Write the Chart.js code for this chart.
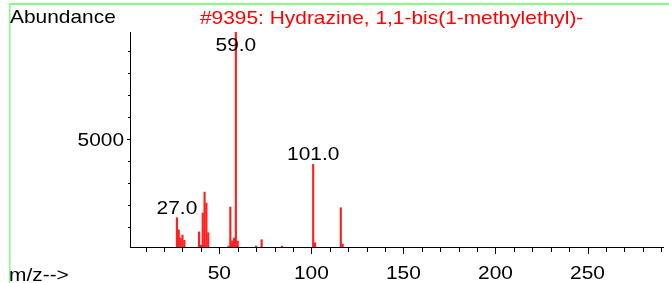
<!DOCTYPE html>
<html>
<head>
<meta charset="utf-8">
<script src="https://cdn.jsdelivr.net/npm/chart.js@4/dist/chart.umd.min.js"></script>
<style>
  html, body { margin: 0; padding: 0; background: #fff; }
  #wrap { width: 669px; height: 283px; position: relative; }
</style>
</head>
<body>
<div id="wrap"><canvas id="spectrum"></canvas></div>
<script>
// Mass spectrum data
const mz = [27, 28, 29, 30, 31, 39, 40, 41, 42, 43, 44, 55, 56, 57, 58, 59, 60, 70, 73, 84, 101, 102, 116, 117];
const abundance = [1440, 880, 515, 650, 410, 790, 195, 1650, 2600, 2100, 755, 150, 1920, 380, 515, 9900, 380, 150, 435, 150, 3860, 300, 1890, 240];
const labeledPeaks = [27, 59, 101];
const xTickLabels = [50, 100, 150, 200, 250];
const yTickLabels = [5000];
const titleText = '#9395: Hydrazine, 1,1-bis(1-methylethyl)-';

const FONT = '"Liberation Sans", Arial, sans-serif';

// text is a bit wide in the original, stretch horizontally
function drawText(ctx, text, x, y, align, size, color) {
  const sx = 1.1;
  ctx.save();
  ctx.font = size + 'px ' + FONT;
  ctx.fillStyle = color;
  ctx.textBaseline = 'alphabetic';
  ctx.textAlign = align;
  ctx.translate(x, y);
  ctx.scale(sx, 1);
  ctx.fillText(text, 0, 0);
  ctx.restore();
}

const decorations = {
  id: 'decorations',
  beforeDraw(chart) {
    const ctx = chart.ctx;
    ctx.save();
    ctx.fillStyle = '#fff';
    ctx.fillRect(0, 0, chart.width, chart.height);
    // green frame
    ctx.fillStyle = '#80ff80';
    ctx.fillRect(9, 3, chart.width - 9, 2);
    ctx.fillRect(9, 3, 1.5, chart.height - 3);
    ctx.restore();
  },
  afterDraw(chart) {
    const ctx = chart.ctx;
    const xs = chart.scales.x;
    const ys = chart.scales.y;
    const area = chart.chartArea;
    const bottom = Math.round(area.bottom);
    const left = Math.round(area.left);

    ctx.save();
    ctx.fillStyle = '#000';
    // x ticks
    for (let v = 10; v <= 290; v += 10) {
      const px = Math.round(xs.getPixelForValue(v));
      const len = v % 50 === 0 ? 7 : 5;
      ctx.fillRect(px, bottom, 1, len);
    }
    // y ticks
    for (let v = 1000; v <= 9000; v += 1000) {
      const py = Math.round(ys.getPixelForValue(v));
      const len = v % 5000 === 0 ? 3 : 2;
      ctx.fillRect(left - len, py, len, 1);
    }
    ctx.restore();

    // tick labels
    xTickLabels.forEach(v => {
      drawText(ctx, String(v), xs.getPixelForValue(v), 278.5, 'center', 19, '#000');
    });
    yTickLabels.forEach(v => {
      drawText(ctx, String(v), area.left - 6, ys.getPixelForValue(v) + 7, 'right', 19, '#000');
    });

    // peak labels
    labeledPeaks.forEach(m => {
      const i = mz.indexOf(m);
      const px = xs.getPixelForValue(m);
      const top = ys.getPixelForValue(abundance[i]);
      const y = Math.max(top - 4, area.top + 19);
      drawText(ctx, m.toFixed(1), px, y, 'center', 19, '#000');
    });

    drawText(ctx, 'Abundance', 10, 23, 'left', 19, '#000');
    drawText(ctx, 'm/z-->', 9, 281, 'left', 19, '#000');
    drawText(ctx, titleText, 200, 24.3, 'left', 19, '#ff0000');
  }
};

const ctx = document.getElementById('spectrum').getContext('2d');
new Chart(ctx, {
  type: 'bar',
  data: {
    datasets: [{
      data: mz.map((m, i) => ({ x: m, y: abundance[i] })),
      backgroundColor: '#ff2020',
      borderWidth: 0,
      barThickness: 1.5
    }]
  },
  options: {
    responsive: true,
    maintainAspectRatio: false,
    animation: false,
    layout: { padding: { top: 32, right: 6, left: 0, bottom: 0 } },
    plugins: {
      legend: { display: false },
      tooltip: { enabled: false }
    },
    scales: {
      x: {
        type: 'linear',
        offset: false,
        min: 1.5,
        max: 291,
        grid: { display: false, offset: false },
        border: { display: true, color: '#000', width: 1 },
        ticks: { display: false },
        afterFit(scale) { scale.height = 36; }
      },
      y: {
        min: 105,
        max: 9880,
        grid: { display: false },
        border: { display: true, color: '#000', width: 1 },
        ticks: { display: false },
        afterFit(scale) { scale.width = 130; }
      }
    }
  },
  plugins: [decorations]
});
</script>
</body>
</html>
